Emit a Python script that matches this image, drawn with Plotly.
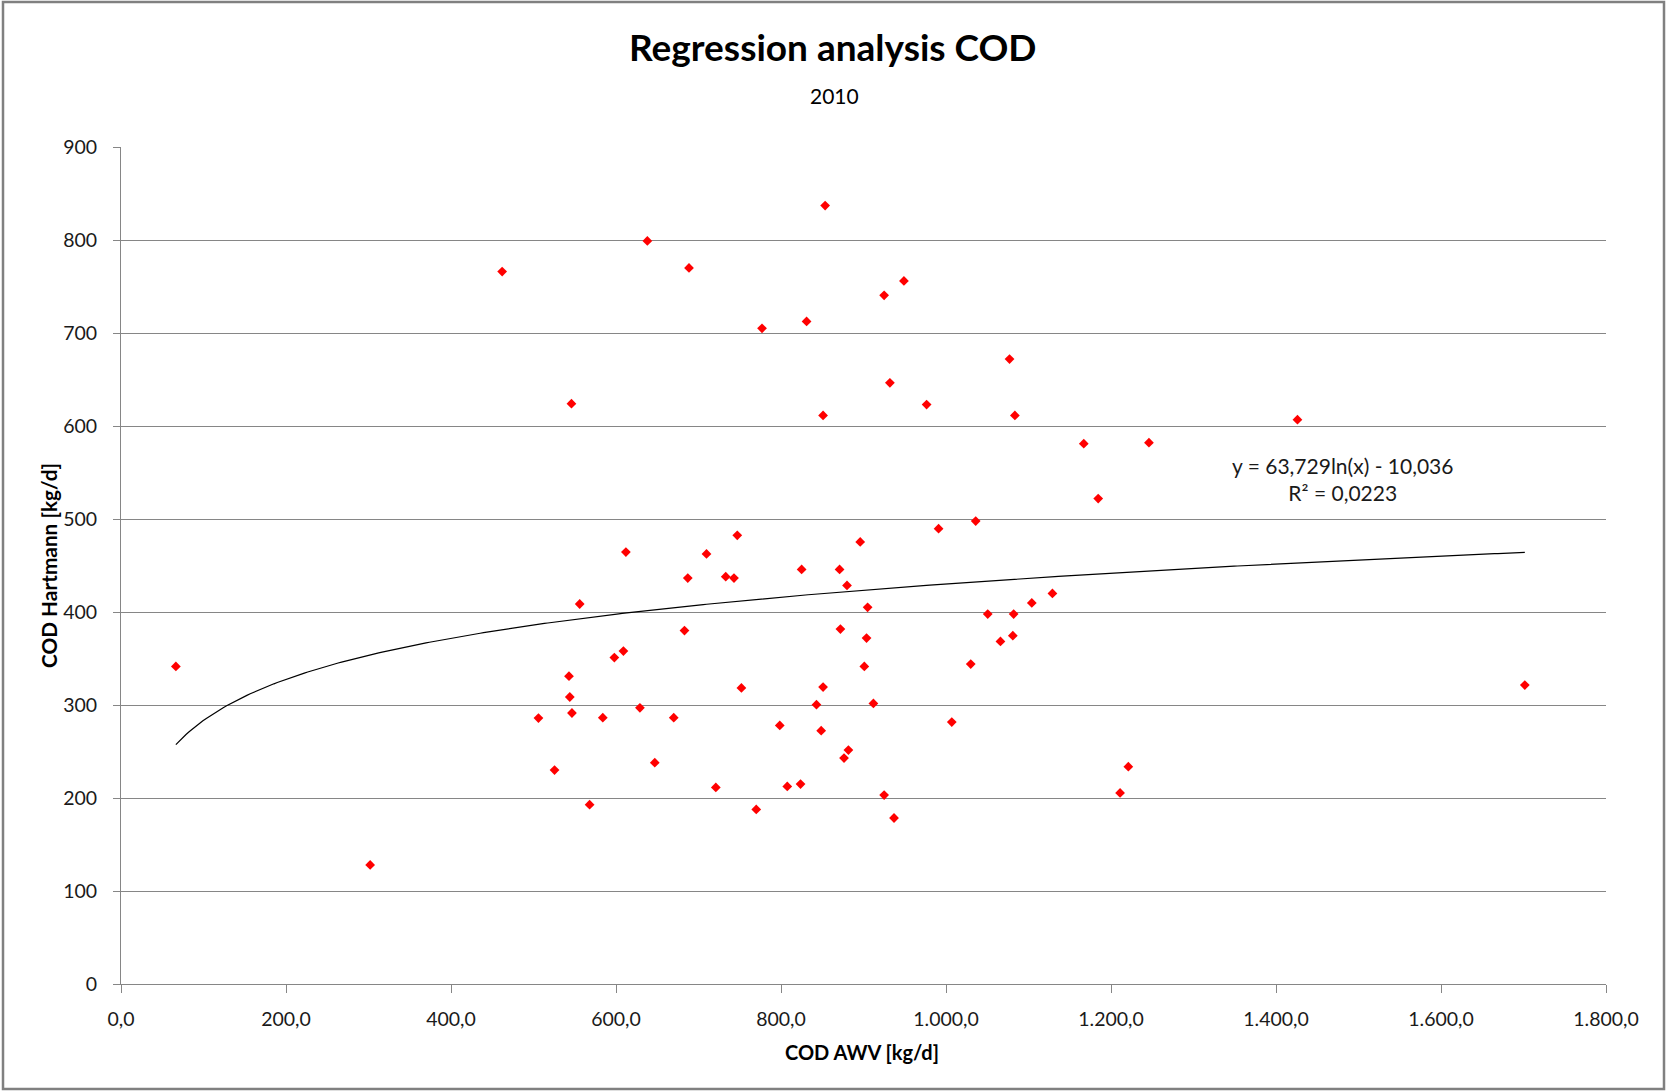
import numpy as np
import plotly.graph_objects as go

# ---- data ----
cod_awv = [66.5, 302, 462, 506, 525.5, 543, 544, 546.6, 546, 556,
           568, 584, 598, 609, 612, 629, 638, 647, 670, 683,
           687, 688.5, 709.7, 721, 733, 743, 747, 752, 770, 777,
           798.5, 807.6, 823.7, 825, 831, 843, 848.7, 851, 851, 853.5,
           871, 872, 876.4, 880, 881.7, 896, 901, 903.7, 905, 912,
           925, 925, 932, 937, 949, 976.5, 991, 1007, 1030, 1036,
           1050.6, 1066, 1077, 1081, 1082, 1083.5, 1104, 1129, 1167, 1184.5,
           1211, 1221, 1246, 1426, 1701.6]
cod_hartmann = [341.5, 128, 766, 286, 230, 331, 308.6, 291.4, 624, 408.6,
                192.8, 286.3, 351, 358, 464.5, 297, 799, 238, 286.3, 380,
                436.5, 770, 462.4, 211.4, 438, 436.5, 482.4, 318.3, 187.7, 705,
                278, 212.5, 215, 445.8, 712.5, 300.3, 272.4, 319.3, 611.4, 837,
                445.8, 381.7, 243, 428.6, 251.6, 475.3, 341.5, 372, 405, 301.7,
                740.5, 203.2, 646.5, 178.5, 756, 623, 489.6, 281.7, 344, 497.8,
                397.8, 368.4, 672, 374.5, 397.8, 611.4, 409.7, 420, 581, 522,
                205.4, 233.7, 582, 606.8, 321.5]

# trendline coefficients as shown on the chart: y = a*ln(x) + b
trend_a = 63.729
trend_b = -10.036
trend_label = ["y = 63,729ln(x) - 10,036", "R² = 0,0223"]

x_tickvals = [0, 200, 400, 600, 800, 1000, 1200, 1400, 1600, 1800]
x_ticktext = ["0,0", "200,0", "400,0", "600,0", "800,0", "1.000,0",
              "1.200,0", "1.400,0", "1.600,0", "1.800,0"]
y_tickvals = [0, 100, 200, 300, 400, 500, 600, 700, 800, 900]
y_ticktext = ["0", "100", "200", "300", "400", "500", "600", "700", "800", "900"]

title_text = "Regression analysis COD"
subtitle_text = "2010"
x_title = "COD AWV [kg/d]"
y_title = "COD Hartmann [kg/d]"

# ---- figure ----
W, H = 1666, 1091
ML, MR, MT, MB = 121, 60, 147, 107
PW, PH = W - ML - MR, H - MT - MB

def px_x(p):  # pixel -> paper x
    return (p - ML) / PW

def px_y(p):  # pixel -> paper y
    return (H - MB - p) / PH

FONT = "Lato, 'Open Sans', sans-serif"
GRID = "#868686"
TXT = "#1a1a1a"

tx = np.linspace(min(cod_awv), max(cod_awv), 400)
ty = trend_a * np.log(tx) + trend_b

fig = go.Figure()
fig.add_trace(go.Scatter(x=tx, y=ty, mode="lines",
                         line=dict(color="#000000", width=1.2),
                         hoverinfo="skip", showlegend=False))
fig.add_trace(go.Scatter(x=cod_awv, y=cod_hartmann, mode="markers",
                         marker=dict(symbol="diamond", size=7.5, color="#FF0000",
                                     line=dict(width=0)),
                         showlegend=False))

fig.update_layout(
    width=W, height=H,
    margin=dict(l=ML, r=MR, t=MT, b=MB, pad=0),
    paper_bgcolor="white", plot_bgcolor="white",
    font=dict(family=FONT, color=TXT, size=19),
    showlegend=False,
    xaxis=dict(range=[0, 1800], tickvals=x_tickvals, ticktext=x_ticktext,
               showgrid=False, zeroline=False, showline=True,
               linecolor=GRID, linewidth=1, ticks="outside", ticklen=8,
               tickcolor=GRID, tickwidth=1, ticklabelstandoff=10,
               tickfont=dict(size=19.5, color=TXT, family=FONT)),
    yaxis=dict(range=[0, 900], tickvals=y_tickvals, ticktext=y_ticktext,
               showgrid=True, gridcolor=GRID, gridwidth=1, zeroline=False,
               showline=True, linecolor=GRID, linewidth=1, ticks="outside",
               ticklen=7, tickcolor=GRID, tickwidth=1, ticklabelstandoff=12,
               tickfont=dict(size=19.5, color=TXT, family=FONT)),
)

annotations = [
    dict(text="<b>" + title_text + "</b>", x=px_x(833), y=px_y(46),
         font=dict(size=37, family=FONT, color="#000000")),
    dict(text=subtitle_text, x=px_x(834), y=px_y(96),
         font=dict(size=21, family=FONT, color="#000000")),
    dict(text="<b>" + x_title + "</b>", x=px_x(862), y=px_y(1052),
         font=dict(size=20, family=FONT, color="#000000")),
    dict(text="<b>" + y_title + "</b>", x=px_x(48), y=px_y(566), textangle=-90,
         font=dict(size=20.8, family=FONT, color="#000000")),
    dict(text="<br>".join(trend_label), x=px_x(1342), y=px_y(479),
         font=dict(size=21, family=FONT, color=TXT), align="center"),
]
for a in annotations:
    a.update(xref="paper", yref="paper", xanchor="center", yanchor="middle",
             showarrow=False)
fig.update_layout(annotations=annotations)

# outer chart border
fig.add_shape(type="rect", xref="paper", yref="paper",
              x0=px_x(3), x1=px_x(1664), y0=px_y(1089), y1=px_y(2),
              line=dict(color="#808080", width=2.5), fillcolor="rgba(0,0,0,0)",
              layer="below")

fig.write_html("out.html")
